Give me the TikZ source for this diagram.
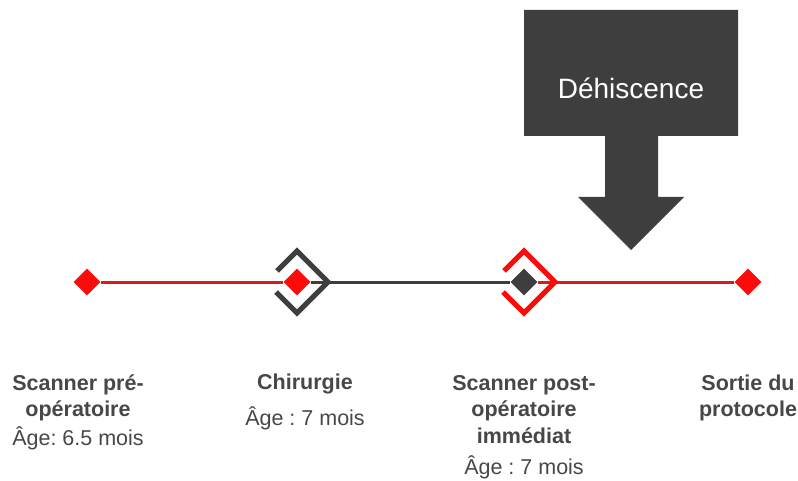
\documentclass[tikz,border=0pt]{standalone}
\usepackage{fontspec}
\setmainfont{Liberation Sans}
\usepackage{tikz}
\usetikzlibrary{shapes.geometric}
\definecolor{markred}{HTML}{FF0A0A}
\definecolor{linered}{HTML}{DA1A1E}
\definecolor{darkgrey}{HTML}{3E3E3E}
\definecolor{textgrey}{HTML}{474747}
\frenchspacing

\begin{document}
\begin{tikzpicture}[x=1pt,y=-1pt,
  gem/.style={diamond, fill=#1, inner sep=0pt, minimum size=27pt},
  frame/.style={draw=#1, line width=5pt, line join=miter},
  link/.style={draw=#1, line width=3pt},
  title/.style={font=\fontsize{21.5}{26.5}\selectfont\bfseries, text=textgrey, align=center, anchor=base, inner sep=0pt},
  age/.style={font=\fontsize{21.5}{24}\selectfont, text=textgrey, anchor=base, inner sep=0pt}]
\useasboundingbox (0,0) rectangle (798,481);

\fill[darkgrey] (524,10) -- (738,10) -- (738,136) -- (658,136) -- (658,197) -- (684,197)
  -- (631,250) -- (578,197) -- (605,197) -- (605,136) -- (524,136) -- cycle;
\node[font=\fontsize{28}{32}\selectfont, text=white] (dehisc) at (631,88) {Déhiscence};

\node[gem=markred] (pre) at (87,282) {};
\node[gem=markred] (chir) at (297,282) {};
\node[gem=darkgrey] (post) at (524,282) {};
\node[gem=markred] (exit) at (748,282) {};

\draw[link=linered] (pre) -- (chir);
\draw[link=darkgrey] (chir) -- (post);
\draw[link=linered] (post) -- (exit);

\foreach \gem/\col in {chir/darkgrey,post/markred}{
  \draw[frame=\col] ([shift={(-20,-11)}]\gem.center) -- ([shift={(0,-31)}]\gem.center)
    -- ([shift={(31,0)}]\gem.center) -- ([shift={(0,31)}]\gem.center)
    -- ([shift={(-21,10)}]\gem.center);
}

\foreach \name/\x/\y/\txt in {pre/78/416.5/{Scanner pré-\\opératoire}, chir/305/389/Chirurgie,
    post/524/443/{Scanner post-\\opératoire\\immédiat}, exit/748/416.5/{Sortie du\\protocole}}{
  \node[title] (title\name) at (\x,\y) {\txt};
}
\node[age] (agepre) at (78,445) {Âge: 6.5 mois};
\node[age] (agechir) at (305,425) {Âge : 7 mois};
\node[age] (agepost) at (524,474) {Âge : 7 mois};
\end{tikzpicture}
\end{document}
